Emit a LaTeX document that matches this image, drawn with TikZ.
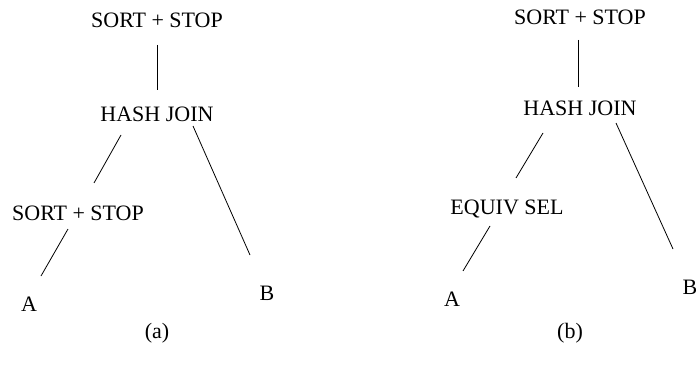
\documentclass[tikz,border=0pt]{standalone}
\usepackage{fontspec}
\setmainfont{Liberation Serif}
\usepackage{tikz}

\begin{document}
\begin{tikzpicture}[x=1pt,y=-1pt,
    lbl/.style={inner sep=0pt,font=\fontsize{22}{26}\selectfont},
    edge/.style={line width=.8pt}]
\useasboundingbox (0,0) rectangle (696,377);
% arbre (a)
\node[lbl] (topA) at (157,20) {SORT + STOP};
\node[lbl] (hjA) at (157,114) {HASH JOIN};
\node[lbl] (sortA) at (78,213) {SORT + STOP};
\node[lbl] (aA) at (29,304) {A};
\node[lbl] (bA) at (267,293) {B};
\node[lbl] (capA) at (157,333) {(a)};
\draw[edge] ([shift={(0,25)}]topA.center) -- ([shift={(0,-24)}]hjA.center);
\draw[edge] ([shift={(-36,21)}]hjA.center) -- ([shift={(16,-30)}]sortA.center);
\draw[edge] ([shift={(36,12)}]hjA.center) -- ([shift={(-17,-38)}]bA.center);
\draw[edge] ([shift={(-10,16)}]sortA.center) -- ([shift={(12,-28)}]aA.center);
% arbre (b)
\node[lbl] (topB) at (580,17) {SORT + STOP};
\node[lbl] (hjB) at (580,108) {HASH JOIN};
\node[lbl] (eqB) at (507,209) {EQUIV SEL};
\node[lbl] (aB) at (452,299) {A};
\node[lbl] (bB) at (690,287) {B};
\node[lbl] (capB) at (570,333) {(b)};
\draw[edge] ([shift={(-2,23)}]topB.center) -- ([shift={(-2,-21)}]hjB.center);
\draw[edge] ([shift={(-37,25)}]hjB.center) -- ([shift={(9,-31)}]eqB.center);
\draw[edge] ([shift={(36,15)}]hjB.center) -- ([shift={(-17,-38)}]bB.center);
\draw[edge] ([shift={(-17,17)}]eqB.center) -- ([shift={(11,-28)}]aB.center);
\end{tikzpicture}
\end{document}
